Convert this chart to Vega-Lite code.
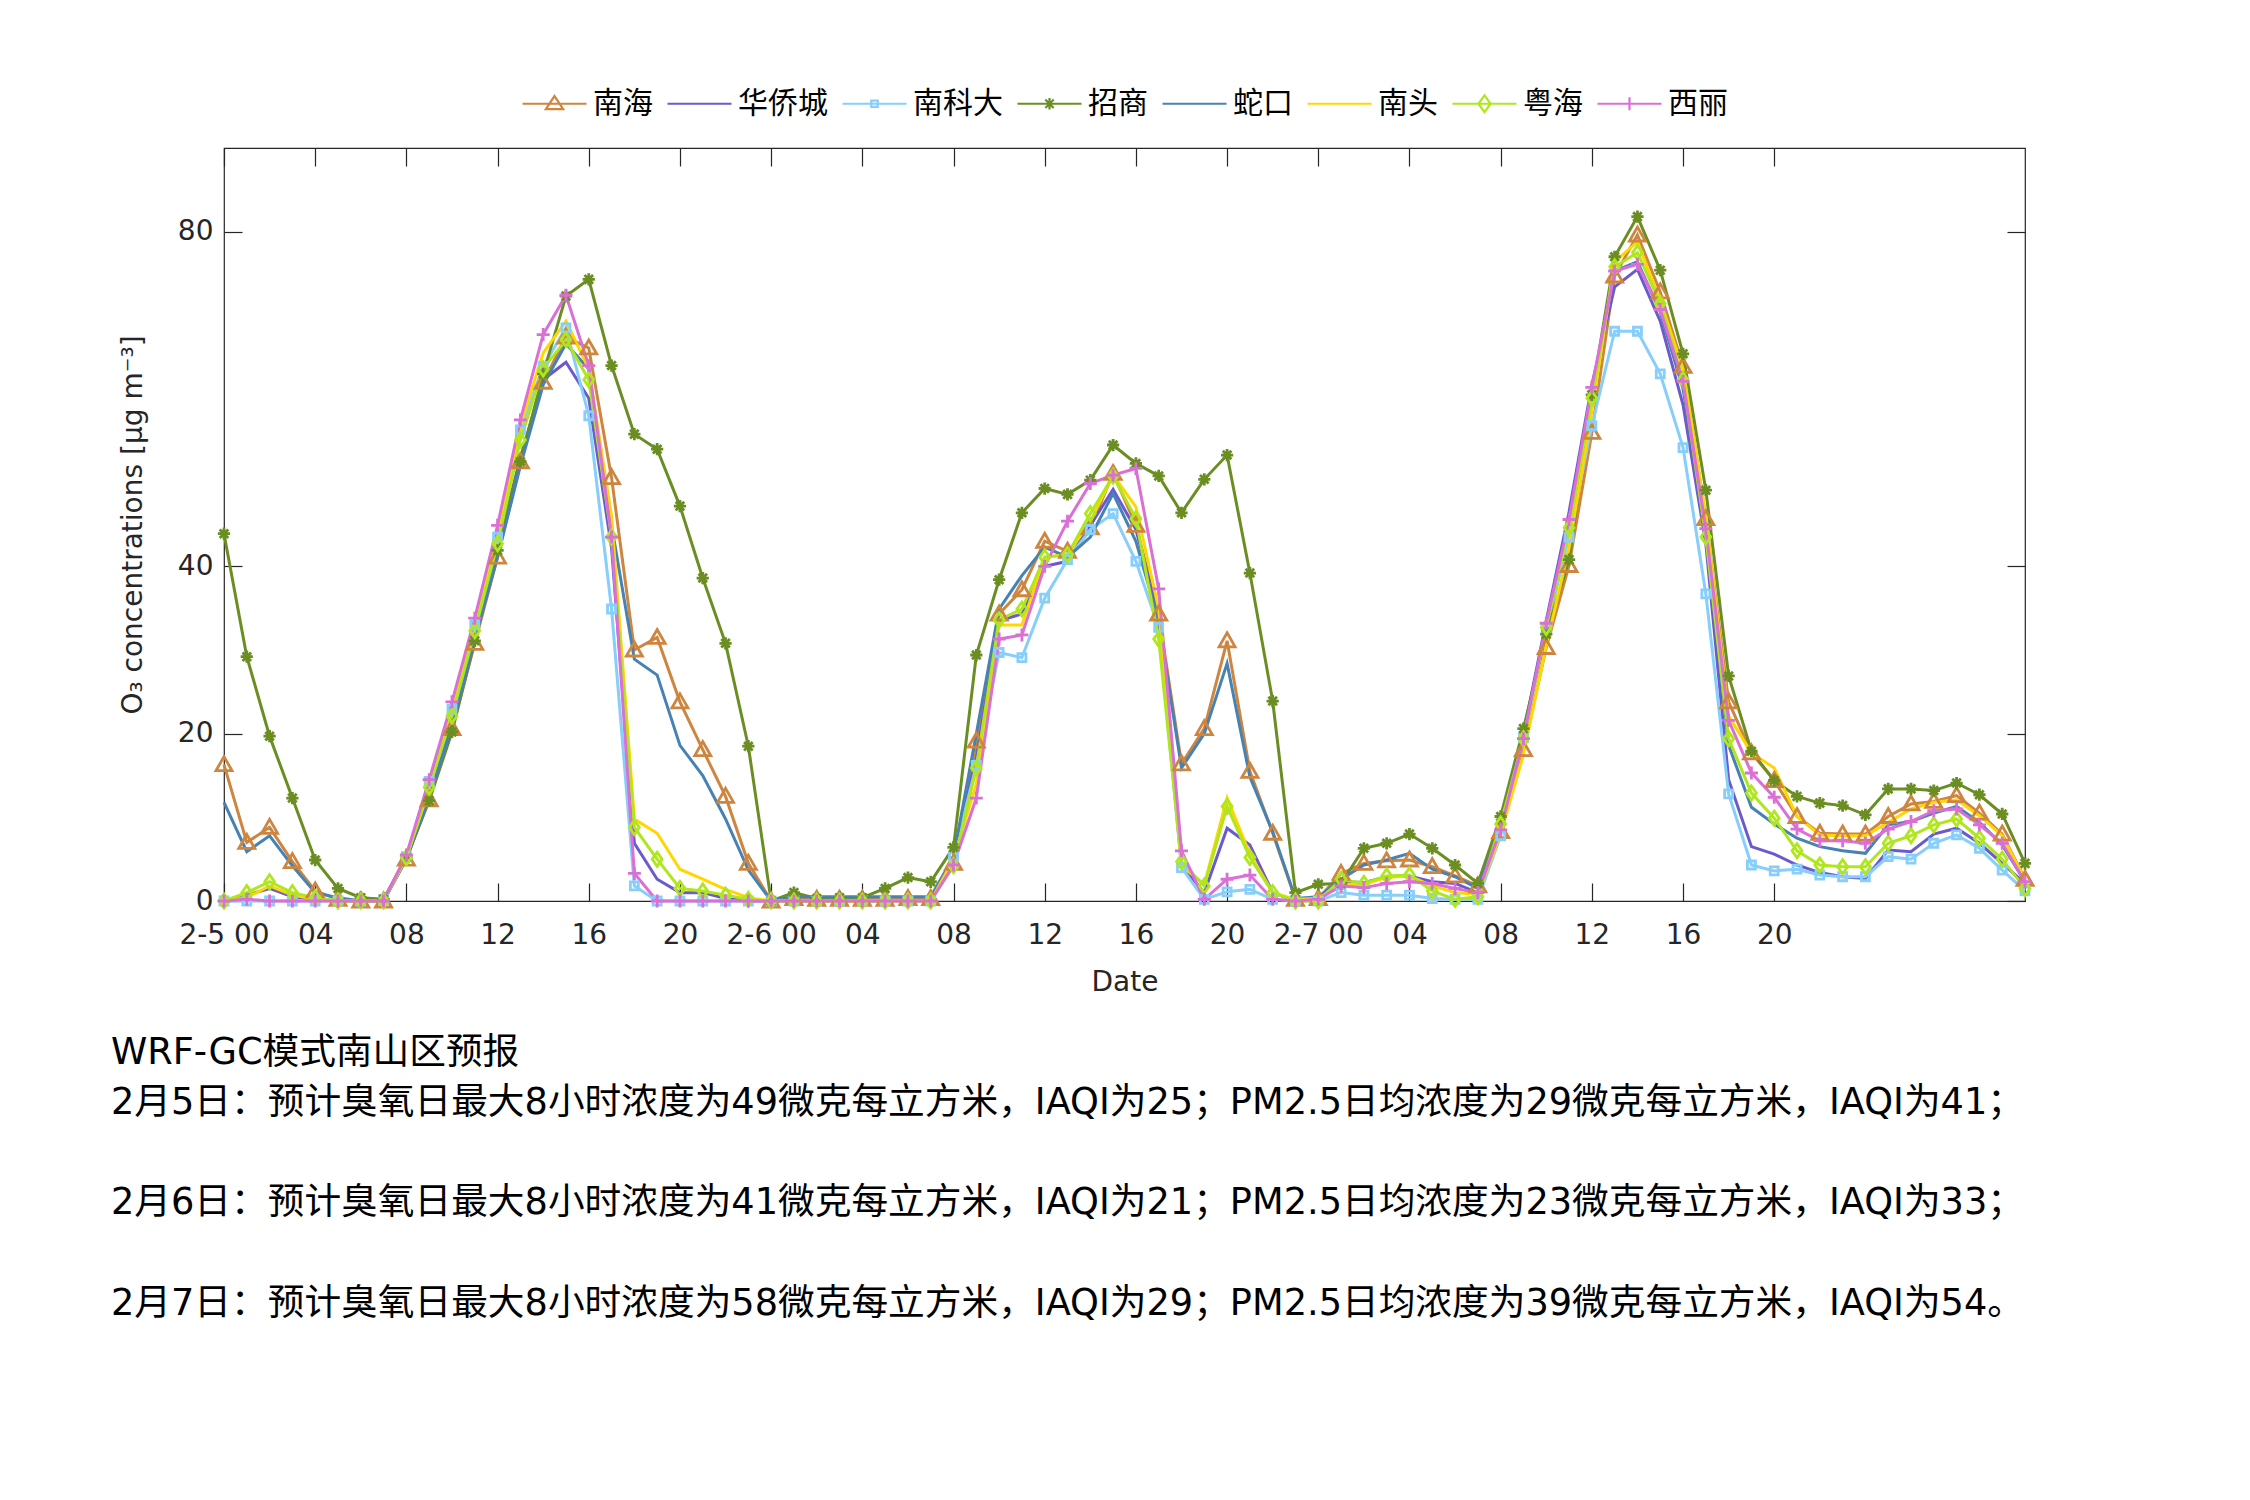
{
  "$schema": "https://vega.github.io/schema/vega-lite/v6.json",
  "width": 1801,
  "height": 753,
  "autosize": {"type": "none"},
  "padding": {"left": 224, "top": 148, "right": 225, "bottom": 599},
  "background": "white",
  "config": {
    "font": "DejaVu Sans, Noto Sans CJK SC",
    "view": {"stroke": "#262626", "strokeWidth": 1.2},
    "axis": {"grid": false, "domain": false, "tickColor": "#262626", "tickWidth": 1.2, "labelColor": "#262626", "labelFontSize": 28, "titleFontSize": 28, "titleFontWeight": "normal", "titleColor": "#262626", "labelFont": "DejaVu Sans", "titleFont": "DejaVu Sans"}
  },
  "title": {
    "text": "WRF-GC模式南山区预报",
    "subtitle": ["2月5日：预计臭氧日最大8小时浓度为49微克每立方米，IAQI为25；PM2.5日均浓度为29微克每立方米，IAQI为41；", "2月6日：预计臭氧日最大8小时浓度为41微克每立方米，IAQI为21；PM2.5日均浓度为23微克每立方米，IAQI为33；", "2月7日：预计臭氧日最大8小时浓度为58微克每立方米，IAQI为29；PM2.5日均浓度为39微克每立方米，IAQI为54。"],
    "orient": "bottom", "anchor": "start", "frame": "group", "dx": -113, "offset": 39,
    "fontSize": 36.7, "fontWeight": "normal", "color": "black", "align": "left", "baseline": "top",
    "subtitleFontSize": 36.7, "subtitleFontWeight": "normal", "subtitleColor": "black", "subtitleLineHeight": 100.5, "subtitlePadding": 13
  },
  "data": {"values": [
{"hour":0,"site":"南海","o3":16.3},{"hour":1,"site":"南海","o3":7.0},{"hour":2,"site":"南海","o3":8.8},{"hour":3,"site":"南海","o3":4.7},{"hour":4,"site":"南海","o3":1.2},{"hour":5,"site":"南海","o3":0.2},{"hour":6,"site":"南海","o3":0},{"hour":7,"site":"南海","o3":0},{"hour":8,"site":"南海","o3":5.0},{"hour":9,"site":"南海","o3":12.1},
{"hour":10,"site":"南海","o3":20.6},{"hour":11,"site":"南海","o3":30.8},{"hour":12,"site":"南海","o3":41.1},{"hour":13,"site":"南海","o3":52.5},{"hour":14,"site":"南海","o3":62.0},{"hour":15,"site":"南海","o3":67.4},{"hour":16,"site":"南海","o3":66.1},{"hour":17,"site":"南海","o3":50.6},{"hour":18,"site":"南海","o3":30.0},{"hour":19,"site":"南海","o3":31.5},
{"hour":20,"site":"南海","o3":23.8},{"hour":21,"site":"南海","o3":18.1},{"hour":22,"site":"南海","o3":12.5},{"hour":23,"site":"南海","o3":4.5},{"hour":24,"site":"南海","o3":0},{"hour":25,"site":"南海","o3":0.3},{"hour":26,"site":"南海","o3":0.2},{"hour":27,"site":"南海","o3":0.2},{"hour":28,"site":"南海","o3":0.2},{"hour":29,"site":"南海","o3":0.2},
{"hour":30,"site":"南海","o3":0.3},{"hour":31,"site":"南海","o3":0.3},{"hour":32,"site":"南海","o3":4.5},{"hour":33,"site":"南海","o3":19.1},{"hour":34,"site":"南海","o3":34.3},{"hour":35,"site":"南海","o3":37.2},{"hour":36,"site":"南海","o3":43.0},{"hour":37,"site":"南海","o3":41.8},{"hour":38,"site":"南海","o3":44.6},{"hour":39,"site":"南海","o3":51.1},
{"hour":40,"site":"南海","o3":44.9},{"hour":41,"site":"南海","o3":34.3},{"hour":42,"site":"南海","o3":16.4},{"hour":43,"site":"南海","o3":20.6},{"hour":44,"site":"南海","o3":31.1},{"hour":45,"site":"南海","o3":15.5},{"hour":46,"site":"南海","o3":8.1},{"hour":47,"site":"南海","o3":0.2},{"hour":48,"site":"南海","o3":0.3},{"hour":49,"site":"南海","o3":3.3},
{"hour":50,"site":"南海","o3":4.5},{"hour":51,"site":"南海","o3":4.8},{"hour":52,"site":"南海","o3":4.9},{"hour":53,"site":"南海","o3":4.1},{"hour":54,"site":"南海","o3":3.0},{"hour":55,"site":"南海","o3":1.8},{"hour":56,"site":"南海","o3":8.3},{"hour":57,"site":"南海","o3":18.1},{"hour":58,"site":"南海","o3":30.3},{"hour":59,"site":"南海","o3":40.1},
{"hour":60,"site":"南海","o3":56.0},{"hour":61,"site":"南海","o3":74.7},{"hour":62,"site":"南海","o3":79.6},{"hour":63,"site":"南海","o3":72.8},{"hour":64,"site":"南海","o3":63.9},{"hour":65,"site":"南海","o3":45.7},{"hour":66,"site":"南海","o3":23.8},{"hour":67,"site":"南海","o3":17.7},{"hour":68,"site":"南海","o3":14.4},{"hour":69,"site":"南海","o3":10.1},
{"hour":70,"site":"南海","o3":8.1},{"hour":71,"site":"南海","o3":8.0},{"hour":72,"site":"南海","o3":8.0},{"hour":73,"site":"南海","o3":10.1},{"hour":74,"site":"南海","o3":11.6},{"hour":75,"site":"南海","o3":11.9},{"hour":76,"site":"南海","o3":12.6},{"hour":77,"site":"南海","o3":10.5},{"hour":78,"site":"南海","o3":8.0},{"hour":79,"site":"南海","o3":2.6},
{"hour":0,"site":"华侨城","o3":0},{"hour":1,"site":"华侨城","o3":0.7},{"hour":2,"site":"华侨城","o3":1.5},{"hour":3,"site":"华侨城","o3":0.5},{"hour":4,"site":"华侨城","o3":0.2},{"hour":5,"site":"华侨城","o3":0},{"hour":6,"site":"华侨城","o3":0},{"hour":7,"site":"华侨城","o3":0},{"hour":8,"site":"华侨城","o3":5.2},{"hour":9,"site":"华侨城","o3":12.9},
{"hour":10,"site":"华侨城","o3":21.6},{"hour":11,"site":"华侨城","o3":31.9},{"hour":12,"site":"华侨城","o3":42.2},{"hour":13,"site":"华侨城","o3":53.0},{"hour":14,"site":"华侨城","o3":62.3},{"hour":15,"site":"华侨城","o3":64.4},{"hour":16,"site":"华侨城","o3":60.1},{"hour":17,"site":"华侨城","o3":42.2},{"hour":18,"site":"华侨城","o3":6.9},{"hour":19,"site":"华侨城","o3":2.6},
{"hour":20,"site":"华侨城","o3":1.0},{"hour":21,"site":"华侨城","o3":1.0},{"hour":22,"site":"华侨城","o3":0.3},{"hour":23,"site":"华侨城","o3":0},{"hour":24,"site":"华侨城","o3":0},{"hour":25,"site":"华侨城","o3":0},{"hour":26,"site":"华侨城","o3":0},{"hour":27,"site":"华侨城","o3":0},{"hour":28,"site":"华侨城","o3":0},{"hour":29,"site":"华侨城","o3":0},
{"hour":30,"site":"华侨城","o3":0},{"hour":31,"site":"华侨城","o3":0},{"hour":32,"site":"华侨城","o3":5.3},{"hour":33,"site":"华侨城","o3":17.2},{"hour":34,"site":"华侨城","o3":33.5},{"hour":35,"site":"华侨城","o3":34.3},{"hour":36,"site":"华侨城","o3":40.0},{"hour":37,"site":"华侨城","o3":40.6},{"hour":38,"site":"华侨城","o3":44.9},{"hour":39,"site":"华侨城","o3":49.2},
{"hour":40,"site":"华侨城","o3":44.4},{"hour":41,"site":"华侨城","o3":34.1},{"hour":42,"site":"华侨城","o3":4.2},{"hour":43,"site":"华侨城","o3":1.0},{"hour":44,"site":"华侨城","o3":8.7},{"hour":45,"site":"华侨城","o3":6.7},{"hour":46,"site":"华侨城","o3":1.0},{"hour":47,"site":"华侨城","o3":0},{"hour":48,"site":"华侨城","o3":0.3},{"hour":49,"site":"华侨城","o3":2.3},
{"hour":50,"site":"华侨城","o3":2.2},{"hour":51,"site":"华侨城","o3":2.9},{"hour":52,"site":"华侨城","o3":3.0},{"hour":53,"site":"华侨城","o3":2.3},{"hour":54,"site":"华侨城","o3":2.1},{"hour":55,"site":"华侨城","o3":1.0},{"hour":56,"site":"华侨城","o3":9.1},{"hour":57,"site":"华侨城","o3":20.0},{"hour":58,"site":"华侨城","o3":33.5},{"hour":59,"site":"华侨城","o3":46.5},
{"hour":60,"site":"华侨城","o3":61.7},{"hour":61,"site":"华侨城","o3":73.4},{"hour":62,"site":"华侨城","o3":75.5},{"hour":63,"site":"华侨城","o3":69.3},{"hour":64,"site":"华侨城","o3":59.3},{"hour":65,"site":"华侨城","o3":42.7},{"hour":66,"site":"华侨城","o3":14.5},{"hour":67,"site":"华侨城","o3":6.5},{"hour":68,"site":"华侨城","o3":5.6},{"hour":69,"site":"华侨城","o3":4.3},
{"hour":70,"site":"华侨城","o3":3.4},{"hour":71,"site":"华侨城","o3":2.9},{"hour":72,"site":"华侨城","o3":2.7},{"hour":73,"site":"华侨城","o3":6.1},{"hour":74,"site":"华侨城","o3":5.9},{"hour":75,"site":"华侨城","o3":8.0},{"hour":76,"site":"华侨城","o3":8.7},{"hour":77,"site":"华侨城","o3":6.9},{"hour":78,"site":"华侨城","o3":4.5},{"hour":79,"site":"华侨城","o3":2.1},
{"hour":0,"site":"南科大","o3":0},{"hour":1,"site":"南科大","o3":0},{"hour":2,"site":"南科大","o3":0},{"hour":3,"site":"南科大","o3":0},{"hour":4,"site":"南科大","o3":0},{"hour":5,"site":"南科大","o3":0},{"hour":6,"site":"南科大","o3":0},{"hour":7,"site":"南科大","o3":0.2},{"hour":8,"site":"南科大","o3":5.3},{"hour":9,"site":"南科大","o3":14.3},
{"hour":10,"site":"南科大","o3":22.9},{"hour":11,"site":"南科大","o3":33.0},{"hour":12,"site":"南科大","o3":43.5},{"hour":13,"site":"南科大","o3":56.3},{"hour":14,"site":"南科大","o3":63.9},{"hour":15,"site":"南科大","o3":68.5},{"hour":16,"site":"南科大","o3":58.0},{"hour":17,"site":"南科大","o3":34.9},{"hour":18,"site":"南科大","o3":1.8},{"hour":19,"site":"南科大","o3":0},
{"hour":20,"site":"南科大","o3":0},{"hour":21,"site":"南科大","o3":0},{"hour":22,"site":"南科大","o3":0},{"hour":23,"site":"南科大","o3":0},{"hour":24,"site":"南科大","o3":0},{"hour":25,"site":"南科大","o3":0},{"hour":26,"site":"南科大","o3":0},{"hour":27,"site":"南科大","o3":0},{"hour":28,"site":"南科大","o3":0},{"hour":29,"site":"南科大","o3":0},
{"hour":30,"site":"南科大","o3":0},{"hour":31,"site":"南科大","o3":0},{"hour":32,"site":"南科大","o3":5.3},{"hour":33,"site":"南科大","o3":16.2},{"hour":34,"site":"南科大","o3":29.7},{"hour":35,"site":"南科大","o3":29.1},{"hour":36,"site":"南科大","o3":36.2},{"hour":37,"site":"南科大","o3":40.8},{"hour":38,"site":"南科大","o3":44.4},{"hour":39,"site":"南科大","o3":46.3},
{"hour":40,"site":"南科大","o3":40.6},{"hour":41,"site":"南科大","o3":32.7},{"hour":42,"site":"南科大","o3":4.0},{"hour":43,"site":"南科大","o3":0.2},{"hour":44,"site":"南科大","o3":1.1},{"hour":45,"site":"南科大","o3":1.4},{"hour":46,"site":"南科大","o3":0.2},{"hour":47,"site":"南科大","o3":0},{"hour":48,"site":"南科大","o3":0},{"hour":49,"site":"南科大","o3":1.0},
{"hour":50,"site":"南科大","o3":0.7},{"hour":51,"site":"南科大","o3":0.7},{"hour":52,"site":"南科大","o3":0.7},{"hour":53,"site":"南科大","o3":0.3},{"hour":54,"site":"南科大","o3":0.2},{"hour":55,"site":"南科大","o3":0.2},{"hour":56,"site":"南科大","o3":7.8},{"hour":57,"site":"南科大","o3":19.5},{"hour":58,"site":"南科大","o3":32.4},{"hour":59,"site":"南科大","o3":43.5},
{"hour":60,"site":"南科大","o3":56.8},{"hour":61,"site":"南科大","o3":68.1},{"hour":62,"site":"南科大","o3":68.1},{"hour":63,"site":"南科大","o3":63.0},{"hour":64,"site":"南科大","o3":54.2},{"hour":65,"site":"南科大","o3":36.7},{"hour":66,"site":"南科大","o3":12.8},{"hour":67,"site":"南科大","o3":4.3},{"hour":68,"site":"南科大","o3":3.6},{"hour":69,"site":"南科大","o3":3.8},
{"hour":70,"site":"南科大","o3":3.1},{"hour":71,"site":"南科大","o3":2.9},{"hour":72,"site":"南科大","o3":2.9},{"hour":73,"site":"南科大","o3":5.3},{"hour":74,"site":"南科大","o3":5.0},{"hour":75,"site":"南科大","o3":6.9},{"hour":76,"site":"南科大","o3":7.9},{"hour":77,"site":"南科大","o3":6.3},{"hour":78,"site":"南科大","o3":3.7},{"hour":79,"site":"南科大","o3":1.2},
{"hour":0,"site":"招商","o3":43.9},{"hour":1,"site":"招商","o3":29.2},{"hour":2,"site":"招商","o3":19.7},{"hour":3,"site":"招商","o3":12.3},{"hour":4,"site":"招商","o3":4.9},{"hour":5,"site":"招商","o3":1.5},{"hour":6,"site":"招商","o3":0.4},{"hour":7,"site":"招商","o3":0.2},{"hour":8,"site":"招商","o3":5.2},{"hour":9,"site":"招商","o3":12.0},
{"hour":10,"site":"招商","o3":20.2},{"hour":11,"site":"招商","o3":31.1},{"hour":12,"site":"招商","o3":41.9},{"hour":13,"site":"招商","o3":52.5},{"hour":14,"site":"招商","o3":63.0},{"hour":15,"site":"招商","o3":72.3},{"hour":16,"site":"招商","o3":74.3},{"hour":17,"site":"招商","o3":64.0},{"hour":18,"site":"招商","o3":55.8},{"hour":19,"site":"招商","o3":54.0},
{"hour":20,"site":"招商","o3":47.2},{"hour":21,"site":"招商","o3":38.6},{"hour":22,"site":"招商","o3":30.8},{"hour":23,"site":"招商","o3":18.5},{"hour":24,"site":"招商","o3":0},{"hour":25,"site":"招商","o3":1.0},{"hour":26,"site":"招商","o3":0.3},{"hour":27,"site":"招商","o3":0.4},{"hour":28,"site":"招商","o3":0.4},{"hour":29,"site":"招商","o3":1.5},
{"hour":30,"site":"招商","o3":2.8},{"hour":31,"site":"招商","o3":2.3},{"hour":32,"site":"招商","o3":6.4},{"hour":33,"site":"招商","o3":29.4},{"hour":34,"site":"招商","o3":38.4},{"hour":35,"site":"招商","o3":46.4},{"hour":36,"site":"招商","o3":49.3},{"hour":37,"site":"招商","o3":48.6},{"hour":38,"site":"招商","o3":50.3},{"hour":39,"site":"招商","o3":54.5},
{"hour":40,"site":"招商","o3":52.3},{"hour":41,"site":"招商","o3":50.8},{"hour":42,"site":"招商","o3":46.4},{"hour":43,"site":"招商","o3":50.4},{"hour":44,"site":"招商","o3":53.3},{"hour":45,"site":"招商","o3":39.2},{"hour":46,"site":"招商","o3":23.9},{"hour":47,"site":"招商","o3":1.0},{"hour":48,"site":"招商","o3":2.0},{"hour":49,"site":"招商","o3":2.1},
{"hour":50,"site":"招商","o3":6.3},{"hour":51,"site":"招商","o3":6.9},{"hour":52,"site":"招商","o3":8.0},{"hour":53,"site":"招商","o3":6.3},{"hour":54,"site":"招商","o3":4.3},{"hour":55,"site":"招商","o3":2.1},{"hour":56,"site":"招商","o3":10.1},{"hour":57,"site":"招商","o3":20.6},{"hour":58,"site":"招商","o3":31.9},{"hour":59,"site":"招商","o3":40.8},
{"hour":60,"site":"招商","o3":60.5},{"hour":61,"site":"招商","o3":77.0},{"hour":62,"site":"招商","o3":81.8},{"hour":63,"site":"招商","o3":75.4},{"hour":64,"site":"招商","o3":65.4},{"hour":65,"site":"招商","o3":49.1},{"hour":66,"site":"招商","o3":26.9},{"hour":67,"site":"招商","o3":17.9},{"hour":68,"site":"招商","o3":14.4},{"hour":69,"site":"招商","o3":12.5},
{"hour":70,"site":"招商","o3":11.7},{"hour":71,"site":"招商","o3":11.4},{"hour":72,"site":"招商","o3":10.3},{"hour":73,"site":"招商","o3":13.4},{"hour":74,"site":"招商","o3":13.4},{"hour":75,"site":"招商","o3":13.2},{"hour":76,"site":"招商","o3":14.1},{"hour":77,"site":"招商","o3":12.7},{"hour":78,"site":"招商","o3":10.4},{"hour":79,"site":"招商","o3":4.5},
{"hour":0,"site":"蛇口","o3":11.8},{"hour":1,"site":"蛇口","o3":5.9},{"hour":2,"site":"蛇口","o3":7.8},{"hour":3,"site":"蛇口","o3":4.2},{"hour":4,"site":"蛇口","o3":1.0},{"hour":5,"site":"蛇口","o3":0.4},{"hour":6,"site":"蛇口","o3":0},{"hour":7,"site":"蛇口","o3":0},{"hour":8,"site":"蛇口","o3":5.0},{"hour":9,"site":"蛇口","o3":12.4},
{"hour":10,"site":"蛇口","o3":20.8},{"hour":11,"site":"蛇口","o3":31.3},{"hour":12,"site":"蛇口","o3":41.1},{"hour":13,"site":"蛇口","o3":52.0},{"hour":14,"site":"蛇口","o3":61.7},{"hour":15,"site":"蛇口","o3":66.6},{"hour":16,"site":"蛇口","o3":63.6},{"hour":17,"site":"蛇口","o3":44.9},{"hour":18,"site":"蛇口","o3":28.9},{"hour":19,"site":"蛇口","o3":27.0},
{"hour":20,"site":"蛇口","o3":18.6},{"hour":21,"site":"蛇口","o3":15.0},{"hour":22,"site":"蛇口","o3":9.8},{"hour":23,"site":"蛇口","o3":3.7},{"hour":24,"site":"蛇口","o3":0},{"hour":25,"site":"蛇口","o3":0.5},{"hour":26,"site":"蛇口","o3":0.5},{"hour":27,"site":"蛇口","o3":0.5},{"hour":28,"site":"蛇口","o3":0.5},{"hour":29,"site":"蛇口","o3":0.5},
{"hour":30,"site":"蛇口","o3":0.5},{"hour":31,"site":"蛇口","o3":0.5},{"hour":32,"site":"蛇口","o3":5.3},{"hour":33,"site":"蛇口","o3":20.0},{"hour":34,"site":"蛇口","o3":34.9},{"hour":35,"site":"蛇口","o3":38.9},{"hour":36,"site":"蛇口","o3":42.3},{"hour":37,"site":"蛇口","o3":41.1},{"hour":38,"site":"蛇口","o3":43.5},{"hour":39,"site":"蛇口","o3":48.7},
{"hour":40,"site":"蛇口","o3":43.0},{"hour":41,"site":"蛇口","o3":33.5},{"hour":42,"site":"蛇口","o3":15.9},{"hour":43,"site":"蛇口","o3":20.0},{"hour":44,"site":"蛇口","o3":28.4},{"hour":45,"site":"蛇口","o3":14.8},{"hour":46,"site":"蛇口","o3":8.3},{"hour":47,"site":"蛇口","o3":0.3},{"hour":48,"site":"蛇口","o3":0.5},{"hour":49,"site":"蛇口","o3":2.6},
{"hour":50,"site":"蛇口","o3":4.3},{"hour":51,"site":"蛇口","o3":4.9},{"hour":52,"site":"蛇口","o3":5.7},{"hour":53,"site":"蛇口","o3":3.8},{"hour":54,"site":"蛇口","o3":2.9},{"hour":55,"site":"蛇口","o3":1.5},{"hour":56,"site":"蛇口","o3":8.8},{"hour":57,"site":"蛇口","o3":20.0},{"hour":58,"site":"蛇口","o3":32.5},{"hour":59,"site":"蛇口","o3":45.4},
{"hour":60,"site":"蛇口","o3":60.6},{"hour":61,"site":"蛇口","o3":75.3},{"hour":62,"site":"蛇口","o3":76.4},{"hour":63,"site":"蛇口","o3":70.4},{"hour":64,"site":"蛇口","o3":61.2},{"hour":65,"site":"蛇口","o3":44.4},{"hour":66,"site":"蛇口","o3":18.6},{"hour":67,"site":"蛇口","o3":11.2},{"hour":68,"site":"蛇口","o3":9.2},{"hour":69,"site":"蛇口","o3":7.5},
{"hour":70,"site":"蛇口","o3":6.5},{"hour":71,"site":"蛇口","o3":6.0},{"hour":72,"site":"蛇口","o3":5.7},{"hour":73,"site":"蛇口","o3":9.1},{"hour":74,"site":"蛇口","o3":9.5},{"hour":75,"site":"蛇口","o3":10.5},{"hour":76,"site":"蛇口","o3":11.3},{"hour":77,"site":"蛇口","o3":9.4},{"hour":78,"site":"蛇口","o3":6.7},{"hour":79,"site":"蛇口","o3":2.3},
{"hour":0,"site":"南头","o3":0},{"hour":1,"site":"南头","o3":0.4},{"hour":2,"site":"南头","o3":1.8},{"hour":3,"site":"南头","o3":0.7},{"hour":4,"site":"南头","o3":0.2},{"hour":5,"site":"南头","o3":0},{"hour":6,"site":"南头","o3":0},{"hour":7,"site":"南头","o3":0},{"hour":8,"site":"南头","o3":5.2},{"hour":9,"site":"南头","o3":13.4},
{"hour":10,"site":"南头","o3":22.7},{"hour":11,"site":"南头","o3":32.7},{"hour":12,"site":"南头","o3":43.5},{"hour":13,"site":"南头","o3":56.8},{"hour":14,"site":"南头","o3":65.5},{"hour":15,"site":"南头","o3":69.3},{"hour":16,"site":"南头","o3":63.6},{"hour":17,"site":"南头","o3":46.0},{"hour":18,"site":"南头","o3":9.8},{"hour":19,"site":"南头","o3":8.1},
{"hour":20,"site":"南头","o3":3.8},{"hour":21,"site":"南头","o3":2.6},{"hour":22,"site":"南头","o3":1.4},{"hour":23,"site":"南头","o3":0.4},{"hour":24,"site":"南头","o3":0},{"hour":25,"site":"南头","o3":0},{"hour":26,"site":"南头","o3":0},{"hour":27,"site":"南头","o3":0},{"hour":28,"site":"南头","o3":0},{"hour":29,"site":"南头","o3":0},
{"hour":30,"site":"南头","o3":0},{"hour":31,"site":"南头","o3":0},{"hour":32,"site":"南头","o3":5.0},{"hour":33,"site":"南头","o3":14.0},{"hour":34,"site":"南头","o3":33.0},{"hour":35,"site":"南头","o3":33.0},{"hour":36,"site":"南头","o3":41.1},{"hour":37,"site":"南头","o3":41.4},{"hour":38,"site":"南头","o3":45.4},{"hour":39,"site":"南头","o3":50.9},
{"hour":40,"site":"南头","o3":47.1},{"hour":41,"site":"南头","o3":34.9},{"hour":42,"site":"南头","o3":4.2},{"hour":43,"site":"南头","o3":2.0},{"hour":44,"site":"南头","o3":12.3},{"hour":45,"site":"南头","o3":5.6},{"hour":46,"site":"南头","o3":1.0},{"hour":47,"site":"南头","o3":0.2},{"hour":48,"site":"南头","o3":0.3},{"hour":49,"site":"南头","o3":2.0},
{"hour":50,"site":"南头","o3":2.0},{"hour":51,"site":"南头","o3":2.8},{"hour":52,"site":"南头","o3":3.0},{"hour":53,"site":"南头","o3":1.8},{"hour":54,"site":"南头","o3":1.0},{"hour":55,"site":"南头","o3":0.8},{"hour":56,"site":"南头","o3":8.0},{"hour":57,"site":"南头","o3":17.5},{"hour":58,"site":"南头","o3":30.5},{"hour":59,"site":"南头","o3":42.2},
{"hour":60,"site":"南头","o3":58.5},{"hour":61,"site":"南头","o3":76.4},{"hour":62,"site":"南头","o3":78.8},{"hour":63,"site":"南头","o3":71.7},{"hour":64,"site":"南头","o3":63.6},{"hour":65,"site":"南头","o3":46.0},{"hour":66,"site":"南头","o3":22.1},{"hour":67,"site":"南头","o3":17.7},{"hour":68,"site":"南头","o3":15.9},{"hour":69,"site":"南头","o3":10.1},
{"hour":70,"site":"南头","o3":7.9},{"hour":71,"site":"南头","o3":7.8},{"hour":72,"site":"南头","o3":7.8},{"hour":73,"site":"南头","o3":9.4},{"hour":74,"site":"南头","o3":11.0},{"hour":75,"site":"南头","o3":11.8},{"hour":76,"site":"南头","o3":12.1},{"hour":77,"site":"南头","o3":10.2},{"hour":78,"site":"南头","o3":7.8},{"hour":79,"site":"南头","o3":2.6},
{"hour":0,"site":"粤海","o3":0},{"hour":1,"site":"粤海","o3":1.0},{"hour":2,"site":"粤海","o3":2.3},{"hour":3,"site":"粤海","o3":1.0},{"hour":4,"site":"粤海","o3":0.4},{"hour":5,"site":"粤海","o3":0},{"hour":6,"site":"粤海","o3":0},{"hour":7,"site":"粤海","o3":0},{"hour":8,"site":"粤海","o3":5.2},{"hour":9,"site":"粤海","o3":13.6},
{"hour":10,"site":"粤海","o3":22.1},{"hour":11,"site":"粤海","o3":32.3},{"hour":12,"site":"粤海","o3":42.7},{"hour":13,"site":"粤海","o3":55.1},{"hour":14,"site":"粤海","o3":63.6},{"hour":15,"site":"粤海","o3":67.1},{"hour":16,"site":"粤海","o3":62.3},{"hour":17,"site":"粤海","o3":43.5},{"hour":18,"site":"粤海","o3":8.8},{"hour":19,"site":"粤海","o3":5.0},
{"hour":20,"site":"粤海","o3":1.5},{"hour":21,"site":"粤海","o3":1.2},{"hour":22,"site":"粤海","o3":0.7},{"hour":23,"site":"粤海","o3":0.2},{"hour":24,"site":"粤海","o3":0},{"hour":25,"site":"粤海","o3":0},{"hour":26,"site":"粤海","o3":0},{"hour":27,"site":"粤海","o3":0},{"hour":28,"site":"粤海","o3":0},{"hour":29,"site":"粤海","o3":0},
{"hour":30,"site":"粤海","o3":0},{"hour":31,"site":"粤海","o3":0},{"hour":32,"site":"粤海","o3":4.2},{"hour":33,"site":"粤海","o3":15.9},{"hour":34,"site":"粤海","o3":33.6},{"hour":35,"site":"粤海","o3":34.9},{"hour":36,"site":"粤海","o3":41.1},{"hour":37,"site":"粤海","o3":41.4},{"hour":38,"site":"粤海","o3":46.3},{"hour":39,"site":"粤海","o3":50.8},
{"hour":40,"site":"粤海","o3":45.7},{"hour":41,"site":"粤海","o3":31.3},{"hour":42,"site":"粤海","o3":4.7},{"hour":43,"site":"粤海","o3":1.8},{"hour":44,"site":"粤海","o3":11.3},{"hour":45,"site":"粤海","o3":5.2},{"hour":46,"site":"粤海","o3":1.0},{"hour":47,"site":"粤海","o3":0},{"hour":48,"site":"粤海","o3":0},{"hour":49,"site":"粤海","o3":2.6},
{"hour":50,"site":"粤海","o3":2.1},{"hour":51,"site":"粤海","o3":3.0},{"hour":52,"site":"粤海","o3":3.1},{"hour":53,"site":"粤海","o3":1.2},{"hour":54,"site":"粤海","o3":0.2},{"hour":55,"site":"粤海","o3":0.5},{"hour":56,"site":"粤海","o3":9.2},{"hour":57,"site":"粤海","o3":19.4},{"hour":58,"site":"粤海","o3":32.7},{"hour":59,"site":"粤海","o3":44.6},
{"hour":60,"site":"粤海","o3":60.1},{"hour":61,"site":"粤海","o3":75.8},{"hour":62,"site":"粤海","o3":77.5},{"hour":63,"site":"粤海","o3":71.4},{"hour":64,"site":"粤海","o3":62.3},{"hour":65,"site":"粤海","o3":43.5},{"hour":66,"site":"粤海","o3":19.4},{"hour":67,"site":"粤海","o3":12.9},{"hour":68,"site":"粤海","o3":9.9},{"hour":69,"site":"粤海","o3":6.0},
{"hour":70,"site":"粤海","o3":4.3},{"hour":71,"site":"粤海","o3":4.1},{"hour":72,"site":"粤海","o3":4.1},{"hour":73,"site":"粤海","o3":6.9},{"hour":74,"site":"粤海","o3":7.8},{"hour":75,"site":"粤海","o3":9.1},{"hour":76,"site":"粤海","o3":9.8},{"hour":77,"site":"粤海","o3":7.5},{"hour":78,"site":"粤海","o3":5.0},{"hour":79,"site":"粤海","o3":1.5},
{"hour":0,"site":"西丽","o3":0},{"hour":1,"site":"西丽","o3":0.2},{"hour":2,"site":"西丽","o3":0},{"hour":3,"site":"西丽","o3":0},{"hour":4,"site":"西丽","o3":0},{"hour":5,"site":"西丽","o3":0},{"hour":6,"site":"西丽","o3":0},{"hour":7,"site":"西丽","o3":0},{"hour":8,"site":"西丽","o3":5.5},{"hour":9,"site":"西丽","o3":14.5},
{"hour":10,"site":"西丽","o3":23.8},{"hour":11,"site":"西丽","o3":33.8},{"hour":12,"site":"西丽","o3":44.9},{"hour":13,"site":"西丽","o3":57.5},{"hour":14,"site":"西丽","o3":67.7},{"hour":15,"site":"西丽","o3":72.4},{"hour":16,"site":"西丽","o3":64.0},{"hour":17,"site":"西丽","o3":43.5},{"hour":18,"site":"西丽","o3":3.3},{"hour":19,"site":"西丽","o3":0},
{"hour":20,"site":"西丽","o3":0},{"hour":21,"site":"西丽","o3":0},{"hour":22,"site":"西丽","o3":0},{"hour":23,"site":"西丽","o3":0},{"hour":24,"site":"西丽","o3":0},{"hour":25,"site":"西丽","o3":0},{"hour":26,"site":"西丽","o3":0},{"hour":27,"site":"西丽","o3":0},{"hour":28,"site":"西丽","o3":0},{"hour":29,"site":"西丽","o3":0},
{"hour":30,"site":"西丽","o3":0},{"hour":31,"site":"西丽","o3":0},{"hour":32,"site":"西丽","o3":4.3},{"hour":33,"site":"西丽","o3":12.3},{"hour":34,"site":"西丽","o3":31.3},{"hour":35,"site":"西丽","o3":31.8},{"hour":36,"site":"西丽","o3":40.0},{"hour":37,"site":"西丽","o3":45.4},{"hour":38,"site":"西丽","o3":49.9},{"hour":39,"site":"西丽","o3":50.9},
{"hour":40,"site":"西丽","o3":51.7},{"hour":41,"site":"西丽","o3":37.3},{"hour":42,"site":"西丽","o3":6.0},{"hour":43,"site":"西丽","o3":0.2},{"hour":44,"site":"西丽","o3":2.6},{"hour":45,"site":"西丽","o3":3.1},{"hour":46,"site":"西丽","o3":0.2},{"hour":47,"site":"西丽","o3":0},{"hour":48,"site":"西丽","o3":0.2},{"hour":49,"site":"西丽","o3":1.8},
{"hour":50,"site":"西丽","o3":1.6},{"hour":51,"site":"西丽","o3":2.1},{"hour":52,"site":"西丽","o3":2.3},{"hour":53,"site":"西丽","o3":2.1},{"hour":54,"site":"西丽","o3":1.5},{"hour":55,"site":"西丽","o3":1.0},{"hour":56,"site":"西丽","o3":8.5},{"hour":57,"site":"西丽","o3":19.4},{"hour":58,"site":"西丽","o3":33.2},{"hour":59,"site":"西丽","o3":45.6},
{"hour":60,"site":"西丽","o3":61.4},{"hour":61,"site":"西丽","o3":75.3},{"hour":62,"site":"西丽","o3":76.1},{"hour":63,"site":"西丽","o3":70.7},{"hour":64,"site":"西丽","o3":62.1},{"hour":65,"site":"西丽","o3":44.5},{"hour":66,"site":"西丽","o3":21.6},{"hour":67,"site":"西丽","o3":15.3},{"hour":68,"site":"西丽","o3":12.4},{"hour":69,"site":"西丽","o3":8.6},
{"hour":70,"site":"西丽","o3":7.2},{"hour":71,"site":"西丽","o3":7.2},{"hour":72,"site":"西丽","o3":6.9},{"hour":73,"site":"西丽","o3":8.6},{"hour":74,"site":"西丽","o3":9.5},{"hour":75,"site":"西丽","o3":10.8},{"hour":76,"site":"西丽","o3":11.0},{"hour":77,"site":"西丽","o3":9.1},{"hour":78,"site":"西丽","o3":6.9},{"hour":79,"site":"西丽","o3":2.3}
  ]},
  "layer": [
    {
      "transform": [{"filter": "false"}],
      "mark": {"type": "point", "filled": false, "strokeWidth": 2, "opacity": 1},
      "encoding": {
        "x": {"field": "hour", "type": "quantitative", "scale": {"domain": [0, 79], "nice": false, "zero": false},
              "axis": {"orient": "top", "values": [0,4,8,12,16,20,24,28,32,36,40,44,48,52,56,60,64,68], "offset": -18, "tickSize": 18, "labels": false, "domain": false, "grid": false, "title": null}},
        "y": {"field": "o3", "type": "quantitative", "scale": {"domain": [0, 90], "nice": false},
              "axis": {"orient": "right", "values": [0, 20, 40, 80], "offset": -18, "tickSize": 18, "labels": false, "domain": false, "grid": false, "title": null}},
        "color": {"field": "site", "type": "nominal",
                  "scale": {"domain": ["南海","华侨城","南科大","招商","蛇口","南头","粤海","西丽"], "range": ["#CD853F","#6A5ACD","#87CEFA","#6B8E23","#4682B4","#FFD700","#B0E61E","#DA70D6"]},
                  "legend": {"orient": "none", "legendX": 297, "legendY": -78, "direction": "horizontal", "title": null, "symbolSize": 4096, "symbolStrokeWidth": 2.2, "labelFontSize": 30, "labelColor": "black", "labelOffset": 5, "columnPadding": 10, "padding": 0}},
        "shape": {"field": "site", "type": "nominal",
                  "scale": {"domain": ["南海","华侨城","南科大","招商","蛇口","南头","粤海","西丽"],
                            "range": ["M-1,0H1M0,-0.24L0.27,0.17L-0.27,0.17Z", "M-1,0H1", "M-1,0H1M-0.1,-0.1H0.1V0.1H-0.1Z", "M-1,0H1M0,-0.18V0.18M-0.13,-0.13L0.13,0.13M-0.13,0.13L0.13,-0.13", "M-1,0H1", "M-1,0H1", "M-1,0H1M0,-0.26L0.19,0L0,0.26L-0.19,0Z", "M-1,0H1M0,-0.2V0.2"]},
                  "legend": {"orient": "none", "legendX": 297, "legendY": -78, "direction": "horizontal", "title": null, "symbolSize": 4096, "symbolStrokeWidth": 2.2, "labelFontSize": 30, "labelColor": "black", "labelOffset": 5, "columnPadding": 10, "padding": 0}}
      }
    },
    {
      "mark": {"type": "line", "strokeWidth": 3},
      "encoding": {
        "x": {"field": "hour", "type": "quantitative",
              "axis": {"orient": "bottom", "values": [0,4,8,12,16,20,24,28,32,36,40,44,48,52,56,60,64,68], "labelExpr": "datum.value == 0 ? '2-5 00' : datum.value == 24 ? '2-6 00' : datum.value == 48 ? '2-7 00' : ((datum.value % 24) < 10 ? '0' : '') + (datum.value % 24)", "offset": -18, "tickSize": 18, "labelPadding": 20, "labelFlush": false, "labelOverlap": false, "domain": false, "grid": false, "title": "Date", "titlePadding": 19}},
        "y": {"field": "o3", "type": "quantitative",
              "axis": {"orient": "left", "values": [0, 20, 40, 80], "offset": -18, "tickSize": 18, "labelPadding": 11, "domain": false, "grid": false, "title": "O₃ concentrations [μg m⁻³]", "titlePadding": 30}},
        "color": {"field": "site", "type": "nominal"}
      }
    },
    {
      "transform": [{"filter": "datum.site === '南海'"}],
      "mark": {"type": "point", "shape": "M0,-1L1,0.75L-1,0.75Z", "size": 256, "filled": false, "strokeWidth": 2.8, "opacity": 1},
      "encoding": {"x": {"field": "hour", "type": "quantitative", "axis": null}, "y": {"field": "o3", "type": "quantitative", "axis": null}, "color": {"field": "site", "type": "nominal"}}
    },
    {
      "transform": [{"filter": "datum.site === '南科大'"}],
      "mark": {"type": "point", "shape": "M-1,-1H1V1H-1Z", "size": 64, "filled": false, "strokeWidth": 2.8, "opacity": 1},
      "encoding": {"x": {"field": "hour", "type": "quantitative", "axis": null}, "y": {"field": "o3", "type": "quantitative", "axis": null}, "color": {"field": "site", "type": "nominal"}}
    },
    {
      "transform": [{"filter": "datum.site === '招商'"}],
      "mark": {"type": "point", "shape": "M-1,0H1M0,-1V1M-0.7,-0.7L0.7,0.7M-0.7,0.7L0.7,-0.7", "size": 150, "filled": false, "strokeWidth": 2.8, "opacity": 1},
      "encoding": {"x": {"field": "hour", "type": "quantitative", "axis": null}, "y": {"field": "o3", "type": "quantitative", "axis": null}, "color": {"field": "site", "type": "nominal"}}
    },
    {
      "transform": [{"filter": "datum.site === '粤海'"}],
      "mark": {"type": "point", "shape": "M0,-1L0.7,0L0,1L-0.7,0Z", "size": 200, "filled": false, "strokeWidth": 2.8, "opacity": 1},
      "encoding": {"x": {"field": "hour", "type": "quantitative", "axis": null}, "y": {"field": "o3", "type": "quantitative", "axis": null}, "color": {"field": "site", "type": "nominal"}}
    },
    {
      "transform": [{"filter": "datum.site === '西丽'"}],
      "mark": {"type": "point", "shape": "M-1,0H1M0,-1V1", "size": 169, "filled": false, "strokeWidth": 2.8, "opacity": 1},
      "encoding": {"x": {"field": "hour", "type": "quantitative", "axis": null}, "y": {"field": "o3", "type": "quantitative", "axis": null}, "color": {"field": "site", "type": "nominal"}}
    }
  ],
  "resolve": {"axis": {"x": "independent", "y": "independent"}}
}
